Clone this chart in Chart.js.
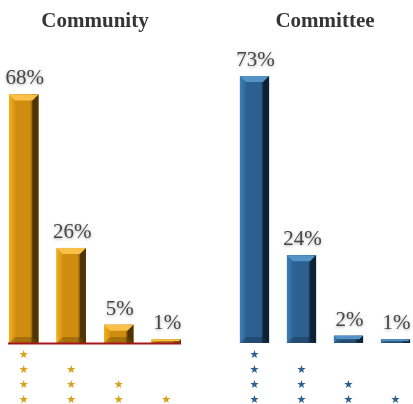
<!DOCTYPE html>
<html>
<head>
<meta charset="utf-8">
<script src="https://cdn.jsdelivr.net/npm/chart.js@4.4.1/dist/chart.umd.min.js"></script>
<style>
  html, body { margin: 0; padding: 0; background: #fff; overflow: hidden; width: 413px; height: 404px; }
  .panel { position: absolute; top: 0; height: 405px; }
  #leftPanel { left: 0; width: 190px; }
  #rightPanel { left: 231px; width: 188px; }
</style>
</head>
<body>
<div class="panel" id="leftPanel"><canvas id="communityChart"></canvas></div>
<div class="panel" id="rightPanel"><canvas id="committeeChart"></canvas></div>
<script>
const groups = ['Community', 'Committee'];
const ratings = [4, 3, 2, 1];
const communityPct = [68, 26, 5, 1];
const committeePct = [73, 24, 2, 1];

// stars stacked from the bottom, one line per star
const starLabels = ratings.map(n => {
    const lines = [];
    for (let i = 0; i < 4; i++) lines.push(i >= 4 - n ? '★' : '');
    return lines;
});

const palettes = {
    gold: { light: '#f6ae1c', main: '#cf8d10', dark: '#7a5206', top: '#f9c04a', star: '#d9a01e' },
    blue: { light: '#3c7fb8', main: '#2c6090', dark: '#15344f', top: '#5592c6', star: '#2f5f8e' }
};

// bevelled look on each bar + optional red baseline + value labels
const bevelBars = {
    id: 'bevelBars',
    afterDatasetsDraw(chart, args, opts) {
        const ctx = chart.ctx;
        const pal = opts.palette;
        const meta = chart.getDatasetMeta(0);
        const values = chart.data.datasets[0].data;
        ctx.save();
        meta.data.forEach((bar, i) => {
            const w = bar.width;
            const left = bar.x - w / 2, right = bar.x + w / 2;
            const top = bar.y, bottom = bar.base;
            const h = bottom - top;
            const b = Math.min(6, h / 2);

            const g = ctx.createLinearGradient(left, 0, right, 0);
            g.addColorStop(0, pal.light);
            g.addColorStop(0.25, pal.main);
            g.addColorStop(0.72, pal.main);
            g.addColorStop(0.8, pal.dark);
            g.addColorStop(1, pal.dark);
            ctx.fillStyle = g;
            ctx.fillRect(left, top, w, h);

            // top face
            ctx.fillStyle = pal.top;
            ctx.beginPath();
            ctx.moveTo(left, top);
            ctx.lineTo(right, top);
            ctx.lineTo(right - b, top + b);
            ctx.lineTo(left + b, top + b);
            ctx.closePath();
            ctx.fill();

            // right face
            ctx.fillStyle = 'rgba(0,0,0,0.35)';
            ctx.beginPath();
            ctx.moveTo(right, top);
            ctx.lineTo(right, bottom);
            ctx.lineTo(right - b, bottom - b);
            ctx.lineTo(right - b, top + b);
            ctx.closePath();
            ctx.fill();

            // bottom face
            ctx.fillStyle = 'rgba(0,0,0,0.2)';
            ctx.beginPath();
            ctx.moveTo(left, bottom);
            ctx.lineTo(right, bottom);
            ctx.lineTo(right - b, bottom - b);
            ctx.lineTo(left + b, bottom - b);
            ctx.closePath();
            ctx.fill();
        });

        if (opts.baseline) {
            const first = meta.data[0], last = meta.data[meta.data.length - 1];
            ctx.strokeStyle = '#a3161a';
            ctx.lineWidth = 2;
            ctx.beginPath();
            ctx.moveTo(first.x - first.width / 2 - 1, first.base + 0.5);
            ctx.lineTo(last.x + last.width / 2, first.base + 0.5);
            ctx.stroke();
        }

        ctx.font = '21px "Liberation Serif", serif';
        ctx.textAlign = 'center';
        ctx.textBaseline = 'alphabetic';
        ctx.fillStyle = '#474747';
        ctx.shadowColor = 'rgba(0,0,0,0.35)';
        ctx.shadowBlur = 3;
        ctx.shadowOffsetY = 1;
        meta.data.forEach((bar, i) => {
            ctx.fillText(values[i] + '%', bar.x + 1, bar.y - 10);
        });
        ctx.restore();
    }
};

function makeChart(canvasId, title, values, pal, baseline) {
    return new Chart(document.getElementById(canvasId), {
        type: 'bar',
        data: {
            labels: starLabels,
            datasets: [{
                data: values,
                backgroundColor: pal.main,
                barPercentage: 0.62,
                categoryPercentage: 1
            }]
        },
        options: {
            responsive: true,
            maintainAspectRatio: false,
            animation: false,
            layout: { padding: 0 },
            plugins: {
                legend: { display: false },
                tooltip: { enabled: false },
                title: {
                    display: true,
                    text: title,
                    color: '#353535',
                    font: { family: '"Liberation Serif", serif', weight: 'bold', size: 21 },
                    padding: { top: 9, bottom: 9 }
                },
                bevelBars: { palette: pal, baseline: baseline }
            },
            scales: {
                x: {
                    grid: { display: false },
                    border: { display: false },
                    ticks: {
                        color: pal.star,
                        font: { family: '"DejaVu Sans", sans-serif', size: 11, lineHeight: 15 / 11 },
                        padding: -3,
                        autoSkip: false,
                        maxRotation: 0
                    }
                },
                y: { display: false, min: 0, max: 82 }
            }
        },
        plugins: [bevelBars]
    });
}

makeChart('communityChart', groups[0], communityPct, palettes.gold, true);
makeChart('committeeChart', groups[1], committeePct, palettes.blue, false);
</script>
</body>
</html>
